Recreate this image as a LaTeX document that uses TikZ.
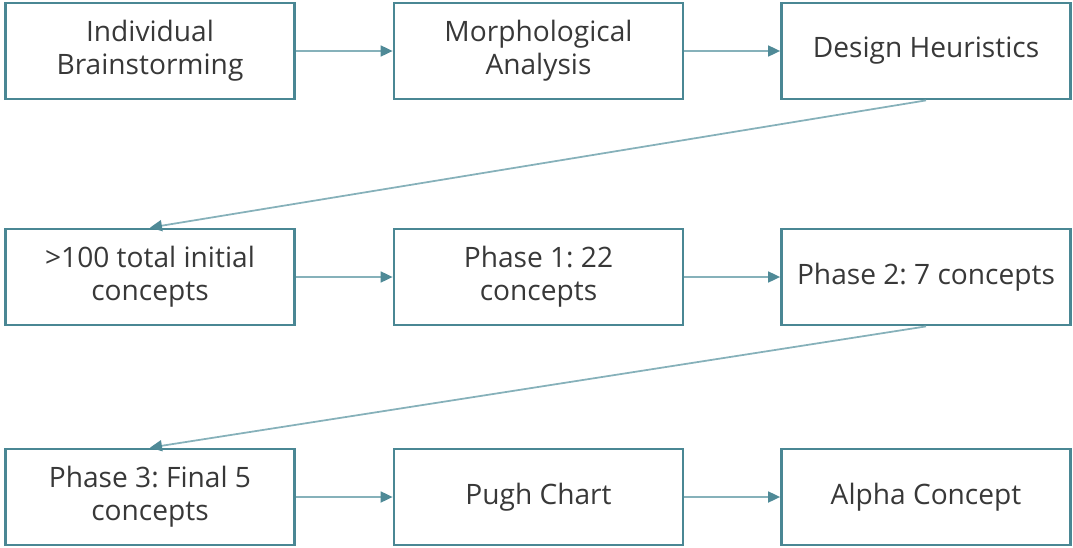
\documentclass[tikz,border=0pt]{standalone}
\usepackage{fontspec}
\setmainfont{Open Sans}
\usetikzlibrary{arrows.meta, positioning}
\usepackage{xcolor}
\definecolor{boxline}{HTML}{4A8794}
\definecolor{flowline}{HTML}{86B1BA}
\definecolor{flowtip}{HTML}{4F8A97}
\definecolor{txt}{HTML}{383838}
\frenchspacing

\begin{document}
\begin{tikzpicture}[
    x=0.02cm, y=-0.02cm,
    every node/.style={font=\fontsize{16}{19}\selectfont, text=txt},
    stage/.style={rectangle, draw=boxline, line width=1.6pt, minimum width=5.78cm,
                  minimum height=1.92cm, align=center, inner sep=2pt},
    flow/.style={-{Triangle[length=2.4mm, width=2.2mm, color=flowtip]}, line width=1pt, flowline}
]
    \useasboundingbox (0,0) rectangle (1073,548);
    % first row
    \node[stage] (brain)  at (150,51)   {Individual\\Brainstorming};
    \node[stage] (morph)  at (538.5,51) {Morphological\\Analysis};
    \node[stage] (heur)   at (926,51)   {Design Heuristics};
    % second row
    \node[stage] (init)   at (150,277)   {>100 total initial\\concepts};
    \node[stage] (phone)  at (538.5,277) {Phase 1: 22\\concepts};
    \node[stage] (phtwo)  at (926,277)   {Phase 2: 7 concepts};
    % third row
    \node[stage] (phthree) at (150,497)   {Phase 3: Final 5\\concepts};
    \node[stage] (pugh)    at (538.5,497) {Pugh Chart};
    \node[stage] (alpha)   at (926,497)   {Alpha Concept};

    \draw[flow] (brain) -- (morph);
    \draw[flow] (morph) -- (heur);
    \draw[flow] (heur.south) -- (init.north);
    \draw[flow] (init) -- (phone);
    \draw[flow] (phone) -- (phtwo);
    \draw[flow] (phtwo.south) -- (phthree.north);
    \draw[flow] (phthree) -- (pugh);
    \draw[flow] (pugh) -- (alpha);
\end{tikzpicture}
\end{document}
